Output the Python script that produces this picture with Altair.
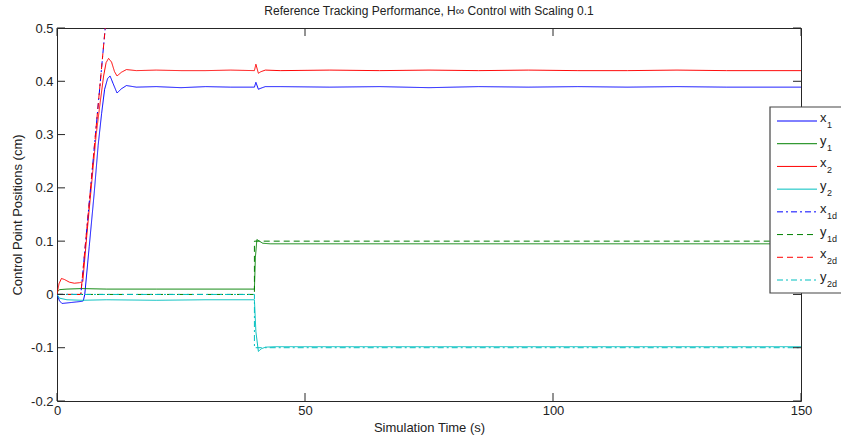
import altair as alt
import pandas as pd

FONT = "Arial, Liberation Sans, sans-serif"

series_names = ["x1", "y1", "x2", "y2", "x1d", "y1d", "x2d", "y2d"]
series_colors = ["#0000FF", "#008000", "#FF0000", "#00BFBF",
                 "#0000FF", "#008000", "#FF0000", "#00BFBF"]
dash_patterns = [[1, 0], [1, 0], [1, 0], [1, 0],
                 [6, 3, 2, 3], [6, 4], [6, 4], [6, 3, 2, 3]]
legend_letters = ["x", "y", "x", "y", "x", "y", "x", "y"]
legend_subs = ["1", "1", "2", "2", "1d", "1d", "2d", "2d"]

x_ticks = [0, 50, 100, 150]
y_ticks = [-0.2, -0.1, 0.0, 0.1, 0.2, 0.3, 0.4, 0.5]

# ---- series data ----
t_x1 = [0, 0.5, 1, 2, 3, 4, 5, 5.3, 5.6, 6.5, 7.5, 8.3, 9.0, 9.6, 10.2, 10.7, 11.3,
        12.1, 13.0, 14.0, 16, 20, 25, 30, 35, 39.8, 40.1, 40.6, 41.1, 42, 45, 55, 65,
        75, 85, 95, 105, 115, 125, 135, 150]
v_x1 = [0, -0.012, -0.017, -0.016, -0.015, -0.014, -0.013, -0.012, 0.0, 0.09, 0.19,
        0.28, 0.34, 0.385, 0.405, 0.41, 0.396, 0.378, 0.386, 0.392, 0.389, 0.39, 0.388,
        0.39, 0.389, 0.389, 0.398, 0.385, 0.387, 0.39, 0.39, 0.389, 0.39, 0.388, 0.39,
        0.389, 0.39, 0.389, 0.39, 0.389, 0.389]

t_x2 = [0, 0.4, 0.9, 1.5, 2.5, 3.5, 4.5, 5.2, 6.0, 7.0, 7.9, 8.7, 9.4, 9.9, 10.4, 11.0,
        11.6, 12.1, 13.0, 14.0, 16, 20, 25, 30, 35, 39.8, 40.1, 40.6, 41.1, 42, 45, 55,
        65, 75, 85, 95, 105, 115, 125, 135, 150]
v_x2 = [0, 0.02, 0.03, 0.028, 0.023, 0.021, 0.022, 0.024, 0.11, 0.21, 0.3, 0.36, 0.41,
        0.435, 0.443, 0.436, 0.418, 0.41, 0.417, 0.422, 0.42, 0.421, 0.42, 0.42, 0.421,
        0.42, 0.432, 0.415, 0.418, 0.421, 0.42, 0.421, 0.42, 0.421, 0.42, 0.421, 0.42,
        0.42, 0.421, 0.42, 0.42]

t_y1 = [0, 0.5, 2, 5, 10, 20, 30, 39.8, 40.0, 40.3, 40.8, 41.5, 43, 60, 80, 100, 120, 150]
v_y1 = [0.004, 0.009, 0.01, 0.011, 0.01, 0.01, 0.01, 0.01, 0.07, 0.103, 0.1, 0.096,
        0.095, 0.095, 0.095, 0.095, 0.095, 0.095]

t_y2 = [0, 0.5, 2, 5, 10, 20, 30, 39.8, 40.1, 40.6, 41.2, 42, 44, 60, 80, 100, 120, 150]
v_y2 = [0, -0.007, -0.01, -0.011, -0.01, -0.011, -0.01, -0.01, -0.07, -0.107, -0.102,
        -0.099, -0.098, -0.098, -0.098, -0.098, -0.098, -0.098]

t_x1d = [0, 4.8, 11.2]
v_x1d = [0, 0, 0.65]
t_x2d = [0, 4.8, 11.2]
v_x2d = [0, 0, 0.65]
t_y1d = [0, 39.8, 39.8, 150]
v_y1d = [0, 0, 0.1, 0.1]
t_y2d = [0, 39.8, 39.8, 150]
v_y2d = [0, 0, -0.1, -0.1]

T = {"x1": t_x1, "y1": t_y1, "x2": t_x2, "y2": t_y2,
     "x1d": t_x1d, "y1d": t_y1d, "x2d": t_x2d, "y2d": t_y2d}
V = {"x1": v_x1, "y1": v_y1, "x2": v_x2, "y2": v_y2,
     "x1d": v_x1d, "y1d": v_y1d, "x2d": v_x2d, "y2d": v_y2d}

W, H = 744, 373
TICK = 8

x_scale = alt.Scale(domain=[0, 150], nice=False, zero=False)
y_scale = alt.Scale(domain=[-0.2, 0.5], nice=False, zero=False)
color_scale = alt.Scale(domain=series_names, range=series_colors)
dash_scale = alt.Scale(domain=series_names, range=dash_patterns)

x_axis = alt.Axis(values=x_ticks, format="d", title="Simulation Time (s)",
                  labelPadding=3, titlePadding=4, labelFlush=False, labelOverlap=False)
y_axis = alt.Axis(values=y_ticks, title="Control Point Positions (cm)",
                  labelExpr="datum.value == 0 ? '0' : replace(format(datum.value, '.1f'), '\u2212', '-')",
                  labelPadding=4, titlePadding=6, labelOverlap=False)

layers = []
for name in series_names:
    df = pd.DataFrame({"t": T[name], "v": V[name], "series": name,
                       "i": list(range(len(T[name])))})
    layers.append(
        alt.Chart(df).mark_line(clip=True, strokeWidth=1).encode(
            x=alt.X("t:Q", scale=x_scale, axis=x_axis),
            y=alt.Y("v:Q", scale=y_scale, axis=y_axis),
            color=alt.Color("series:N", scale=color_scale, legend=None),
            strokeDash=alt.StrokeDash("series:N", scale=dash_scale, legend=None),
            order="i:Q",
        )
    )

xt = pd.DataFrame({"v": x_ticks})
yt = pd.DataFrame({"v": y_ticks})
tick_color = "#262626"
layers += [
    alt.Chart(yt).mark_rule(color=tick_color).encode(
        y=alt.Y("v:Q", scale=y_scale, axis=y_axis), x=alt.value(0), x2=alt.value(TICK)),
    alt.Chart(yt).mark_rule(color=tick_color).encode(
        y=alt.Y("v:Q", scale=y_scale, axis=y_axis), x=alt.value(W - TICK), x2=alt.value(W)),
    alt.Chart(xt).mark_rule(color=tick_color).encode(
        x=alt.X("v:Q", scale=x_scale, axis=x_axis), y=alt.value(H - TICK), y2=alt.value(H)),
    alt.Chart(xt).mark_rule(color=tick_color).encode(
        x=alt.X("v:Q", scale=x_scale, axis=x_axis), y=alt.value(0), y2=alt.value(TICK)),
]
main = alt.layer(*layers)

# ---- legend box ----
legend_df = pd.DataFrame({"series": series_names, "idx": list(range(8)),
                          "letter": legend_letters, "sub": legend_subs})
leg_y = alt.Y("idx:Q", scale=alt.Scale(domain=[0, 7], range=[93, 252]), axis=None)
box = alt.Chart(pd.DataFrame({"a": [0]})).mark_rect(
    fill="white", stroke="#444444", strokeWidth=1.2).encode(
    x=alt.value(713), x2=alt.value(810), y=alt.value(79), y2=alt.value(265))
samples = alt.Chart(legend_df).mark_rule(strokeWidth=1).encode(
    x=alt.value(720), x2=alt.value(760), y=leg_y,
    color=alt.Color("series:N", scale=color_scale, legend=None),
    strokeDash=alt.StrokeDash("series:N", scale=dash_scale, legend=None))
letters = alt.Chart(legend_df).mark_text(
    align="left", baseline="middle", fontSize=13, font=FONT, dy=-3, color="#222").encode(
    x=alt.value(763), y=leg_y, text="letter:N")
subs = alt.Chart(legend_df).mark_text(
    align="left", baseline="middle", fontSize=9, font=FONT, dy=4, color="#222").encode(
    x=alt.value(770), y=leg_y, text="sub:N")
legend = alt.layer(box, samples, letters, subs)

chart = alt.layer(main, legend).resolve_scale(y="independent").properties(
    width=W, height=H,
    autosize="none",
    padding={"left": 57, "top": 28, "right": 40, "bottom": 39},
    title=alt.TitleParams("Reference Tracking Performance, H\u221e Control with Scaling 0.1",
                          fontSize=12, fontWeight="normal", font=FONT, color="#222",
                          offset=4),
).configure_view(stroke=tick_color, strokeWidth=1).configure_axis(
    grid=False, domain=False, ticks=False,
    labelFont=FONT, titleFont=FONT, labelFontSize=13, titleFontSize=13,
    labelColor="#222", titleColor="#222", titleFontWeight="normal",
)

chart.save("out.html", embed_options={"renderer": "svg", "actions": False})
